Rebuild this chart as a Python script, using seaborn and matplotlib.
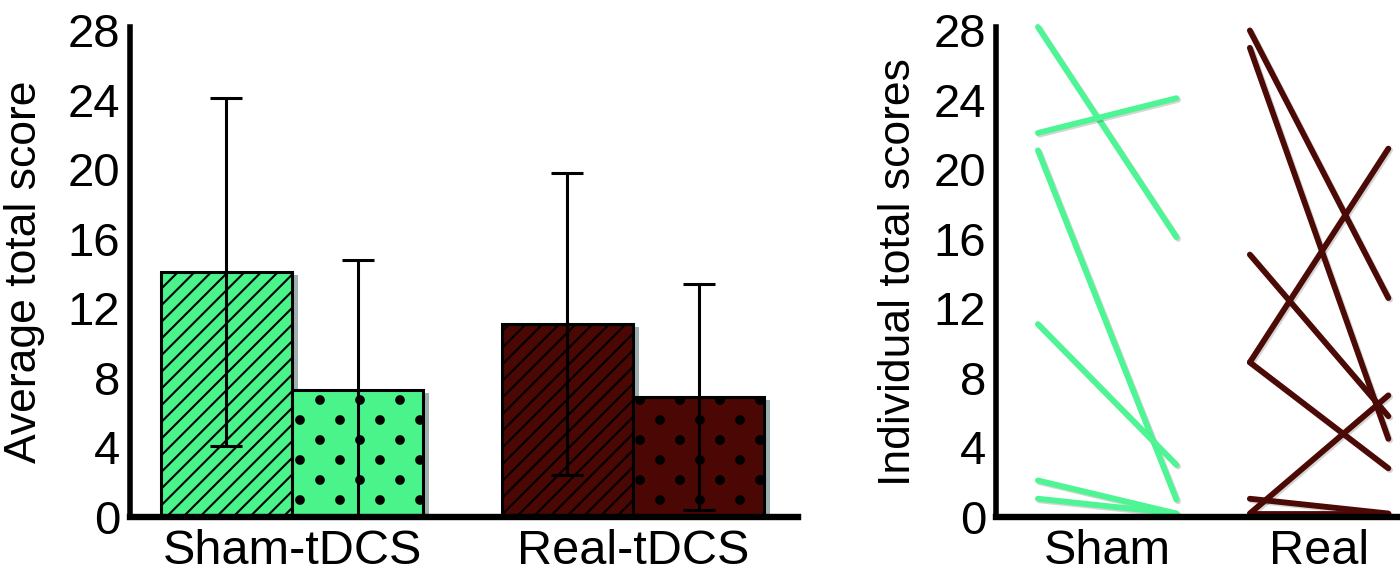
import numpy as np
import pandas as pd
import matplotlib
matplotlib.use("Agg")
import matplotlib.pyplot as plt
import matplotlib.patheffects as pe
from matplotlib import hatch as mhatch
from matplotlib.path import Path
import seaborn as sns

# ---------------- data ----------------
groups = ["Sham-tDCS", "Real-tDCS"]
sessions = ["Session 1", "Session 2"]
sham_means = [14.1, 7.3]
real_means = [11.1, 6.9]
sham_sd = [10.0, 7.5]
real_sd = [8.7, 6.5]

line_groups = ["Sham", "Real"]
sham_first = [28.2, 22.1, 21.1, 11.1, 2.1, 1.05]
sham_second = [16.1, 24.1, 1.0, 3.0, 0.2, 0.2]
real_first = [28.0, 27.0, 15.1, 8.9, 8.9, 0.2, 1.05, 0.2]
real_second = [12.6, 4.5, 5.8, 21.2, 2.8, 7.0, 0.2, 0.2]

y_ticks = [0, 4, 8, 12, 16, 20, 24, 28]

# ---------------- style ----------------
bar_colors = {"Sham-tDCS": "#4BF38B", "Real-tDCS": "#4A0703"}
hatches = {"Session 1": "////", "Session 2": "."}
line_colors = {"Sham": "#4DF594", "Real": "#4C0A06"}
group_offset = {"Sham": 0.0, "Real": 1.53}


class StaggeredDots(mhatch.HatchPatternBase):
    """Large filled dots on a staggered grid (replaces the '.' hatch)."""

    def __init__(self, hatch, density):
        n = hatch.count('.')
        circ = Path.unit_circle()
        self.shape_vertices = circ.vertices
        self.shape_codes = circ.codes
        self.pts = []
        if n:
            ncols = 5 * n
            nrows = 2 * ncols
            for r in range(nrows + 1):
                yy = r / nrows
                if r % 2 == 0:
                    xs = np.linspace(0, 1, ncols + 1)
                else:
                    xs = (np.arange(ncols) + 0.5) / ncols
                self.pts += [(xx, yy) for xx in xs]
        self.num_vertices = len(self.pts) * len(self.shape_vertices)

    def set_vertices_and_codes(self, vertices, codes):
        rad = 0.019
        vs = [self.shape_vertices * rad + np.array(p) for p in self.pts]
        np.concatenate(vs, out=vertices)
        np.concatenate([self.shape_codes] * len(self.pts), out=codes)


mhatch._hatch_types[:] = [StaggeredDots if t is mhatch.SmallFilledCircles else t
                          for t in mhatch._hatch_types]


class NoHatchShadow(pe.SimplePatchShadow):
    def draw_path(self, renderer, gc, tpath, affine, rgbFace):
        gc2 = renderer.new_gc()
        gc2.copy_properties(gc)
        gc2.set_hatch(None)
        super().draw_path(renderer, gc2, tpath, affine, rgbFace)


sns.set_theme(style="white")
plt.rcParams["font.family"] = ["Liberation Sans", "DejaVu Sans"]
plt.rcParams["hatch.linewidth"] = 0.75
plt.rcParams["hatch.color"] = "black"

fig = plt.figure(figsize=(7, 2.875), dpi=200)
ax1 = fig.add_axes([0.0929, 0.1009, 0.4771, 0.8522])
ax2 = fig.add_axes([0.7114, 0.1009, 0.2886, 0.8522])

# ---------------- left: bars ----------------
bar_df = pd.DataFrame({
    "group": np.repeat(groups, len(sessions)),
    "session": sessions * len(groups),
    "mean": sham_means + real_means,
    "sd": sham_sd + real_sd,
})

sns.barplot(data=bar_df, x="group", y="mean", hue="session", order=groups,
            hue_order=sessions, errorbar=None, width=0.77, gap=0,
            edgecolor="black", linewidth=1.1, legend=False, ax=ax1,
            palette=["#4BF38B", "#4BF38B"], saturation=1)

shadow = [NoHatchShadow(offset=(2.0, -1.0), shadow_rgbFace="#7f9696", alpha=0.75),
          pe.Normal()]
for cont, sess in zip(ax1.containers, sessions):
    for bar, grp in zip(cont, groups):
        row = bar_df[(bar_df.group == grp) & (bar_df.session == sess)].iloc[0]
        bar.set_facecolor(bar_colors[grp])
        bar.set_hatch(hatches[sess])
        bar.set_path_effects(shadow)
        ax1.errorbar(bar.get_x() + bar.get_width() / 2, row["mean"], yerr=row["sd"],
                     fmt="none", ecolor="black", elinewidth=1.1, capsize=5.8,
                     capthick=1.1, zorder=4)

ax1.set_xlim(-0.475, 1.484)
ax1.set_ylim(0, 28.2)
ax1.set_yticks(y_ticks)
ax1.set_xlabel("")
ax1.set_ylabel("Average total score", fontsize=16, color="black")
ax1.yaxis.set_label_coords(-0.128, 0.5)

# ---------------- right: individual lines ----------------
rows = []
for grp, first, second in [("Sham", sham_first, sham_second),
                           ("Real", real_first, real_second)]:
    for i, (a, b) in enumerate(zip(first, second)):
        rows.append({"group": grp, "subject": f"{grp}{i}", "visit": 0, "score": a})
        rows.append({"group": grp, "subject": f"{grp}{i}", "visit": 1, "score": b})
ind_df = pd.DataFrame(rows)
ind_df["pos"] = ind_df["visit"] + ind_df["group"].map(group_offset)

sns.lineplot(data=ind_df, x="pos", y="score", hue="group", units="subject",
             estimator=None, palette=line_colors, linewidth=2.1, legend=False,
             ax=ax2, solid_capstyle="round", clip_on=False,
             path_effects=[pe.SimpleLineShadow(offset=(0.6, -0.6), alpha=0.18),
                           pe.Normal()])

ax2.set_xlim(-0.303, 2.614)
ax2.set_ylim(0, 28.2)
ax2.set_yticks(y_ticks)
ax2.set_xticks([group_offset[g] + 0.5 for g in line_groups])
ax2.set_xticklabels(line_groups)
ax2.set_xlabel("")
ax2.set_ylabel("Individual total scores", fontsize=16, color="black")
ax2.yaxis.set_label_coords(-0.19, 0.5)

for ax in (ax1, ax2):
    sns.despine(ax=ax)
    ax.spines["left"].set_linewidth(2.0)
    ax.spines["bottom"].set_linewidth(2.3)
    for s in ("left", "bottom"):
        ax.spines[s].set_color("black")
        ax.spines[s].set_capstyle("projecting")
        ax.spines[s].set_zorder(6)
    ax.tick_params(axis="y", length=0, pad=3.5, labelsize=17, labelcolor="black")
    ax.tick_params(axis="x", length=0, pad=4.5, labelsize=17.5, labelcolor="black")
    ax.grid(False)

fig.savefig("out.png", dpi=200)
